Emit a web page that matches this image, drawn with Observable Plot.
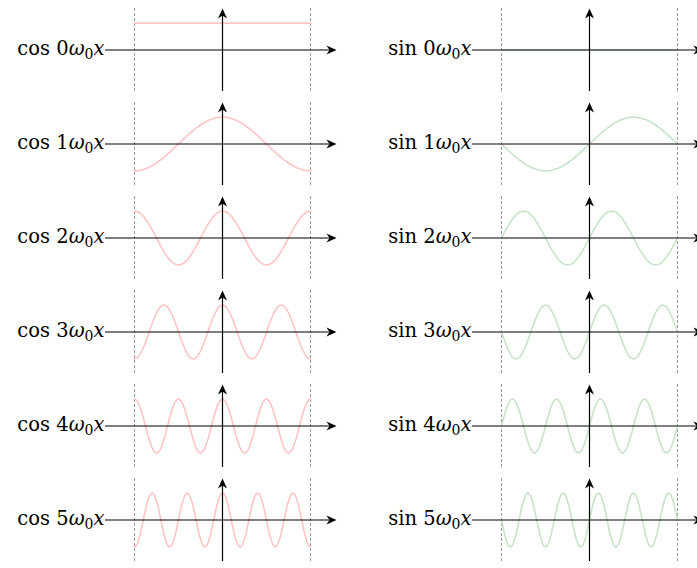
<!DOCTYPE html>
<html>
<head>
<meta charset="utf-8">
<script src="https://cdn.jsdelivr.net/npm/d3@7"></script>
<script src="https://cdn.jsdelivr.net/npm/@observablehq/plot@0.6"></script>
<style>
  body { margin: 0; background: #fff; }
  #chart svg { display: block; }
</style>
</head>
<body>
<div id="chart"></div>
<script>
// ---- data ----
const functions = ["cos", "sin"];          // columns
const harmonics = [0, 1, 2, 3, 4, 5];      // k in cos(k ω0 x), sin(k ω0 x)
const curveColors = ["#ffc4c4", "#c8e3c8"];
const periodHalf = 1;                      // x in units of π/ω0 : one period [-1, 1]
const samples = 240;

// curve table: f(k ω0 x) over one fundamental period
const table = [];
for (const fn of functions) {
  for (const k of harmonics) {
    for (let i = 0; i <= samples; i++) {
      const x = -periodHalf + (2 * periodHalf * i) / samples;
      const v = fn === "cos" ? Math.cos(k * Math.PI * x) : Math.sin(k * Math.PI * x);
      table.push({fn, k, i, x, y: v});
    }
  }
}

const font = "DejaVu Serif";
const yMax = 1.545;
const xStart = -1.33, xEnd = 1.295;

const arrowRight = {
  draw(ctx) { ctx.moveTo(0, 0); ctx.lineTo(-10, -4.5); ctx.lineTo(-7, 0); ctx.lineTo(-10, 4.5); ctx.closePath(); }
};
const arrowUp = {
  draw(ctx) { ctx.moveTo(0, 0); ctx.lineTo(-4.5, 10); ctx.lineTo(0, 7); ctx.lineTo(4.5, 10); ctx.closePath(); }
};

const plot = Plot.plot({
  width: 697,
  height: 568,
  marginLeft: 134,
  marginRight: 20,
  marginTop: 5.5,
  marginBottom: 4,
  facet: {data: table, x: "fn", y: "k"},
  fx: {axis: null, domain: functions, paddingInner: 191 / 367, paddingOuter: 0},
  fy: {axis: null, domain: harmonics, paddingInner: 0.1147, paddingOuter: 0},
  x: {axis: null, domain: [-periodHalf, periodHalf]},
  y: {axis: null, domain: [-yMax, yMax]},
  color: {domain: functions, range: curveColors},
  style: {fontFamily: font, background: "#fff"},
  marks: [
    Plot.ruleX([-periodHalf, periodHalf], {y1: -yMax, y2: yMax, stroke: "#9a9a9a", strokeWidth: 1, strokeDasharray: "3,2"}),
    Plot.line(table, {x: "x", y: "y", stroke: "fn", strokeWidth: 1.6}),
    Plot.ruleY([0], {x1: xStart, x2: xEnd - 0.08, stroke: "#000", strokeWidth: 1.2}),
    Plot.ruleX([0], {y1: -yMax, y2: yMax - 0.15, stroke: "#000", strokeWidth: 1.2}),
    Plot.dot([0], {x: xEnd, y: 0, symbol: arrowRight, fill: "#000", stroke: "none"}),
    Plot.dot([0], {x: 0, y: yMax, symbol: arrowUp, fill: "#000", stroke: "none"}),
    Plot.text(table, {
      filter: d => d.i === 0,
      x: xStart, y: 0,
      text: d => `${d.fn} ${d.k}ω₀x`,
      textAnchor: "end",
      dx: -1,
      dy: -1,
      fontSize: 19.5,
      fill: "#000"
    })
  ]
});

// math-style typesetting of labels: italic ω and x, subscript 0
const NS = "http://www.w3.org/2000/svg";
plot.querySelectorAll("text").forEach(t => {
  const m = t.textContent.match(/^(\S+ \d)ω₀x$/);
  if (!m) return;
  while (t.firstChild) t.removeChild(t.firstChild);
  const add = (s, attrs) => {
    const ts = document.createElementNS(NS, "tspan");
    ts.textContent = s;
    for (const a in attrs) ts.setAttribute(a, attrs[a]);
    t.appendChild(ts);
  };
  add(m[1], {});
  add("ω", {"font-style": "italic"});
  add("0", {"font-size": "14", dy: "4"});
  add("x", {"font-style": "italic", dy: "-4"});
});

document.getElementById("chart").appendChild(plot);
</script>
</body>
</html>
